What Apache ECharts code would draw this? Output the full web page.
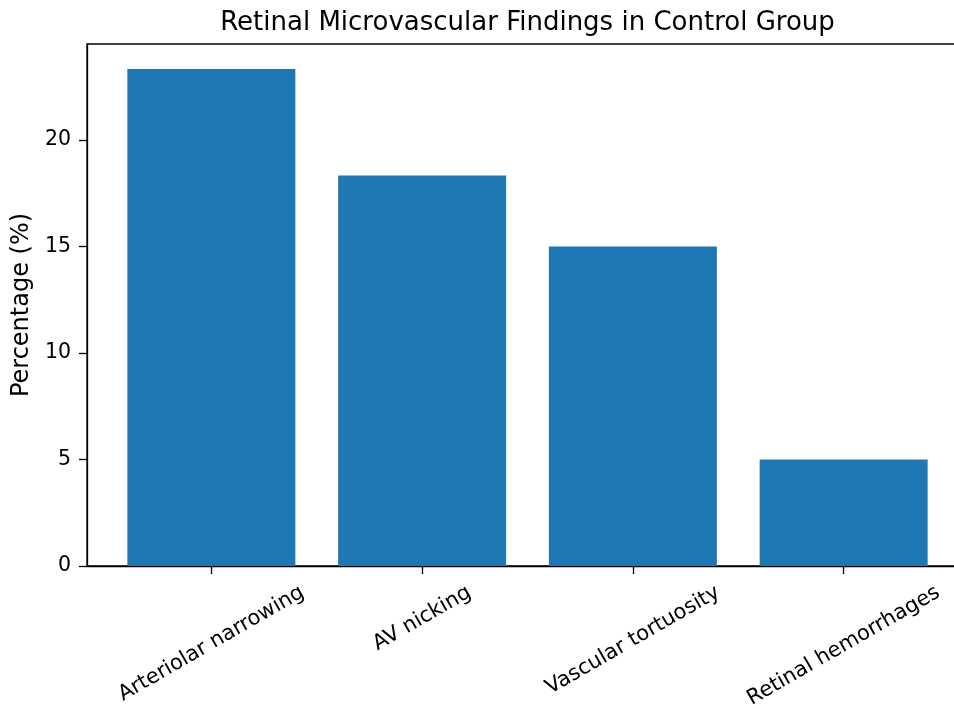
<!DOCTYPE html>
<html>
<head>
<meta charset="utf-8">
<script src="https://cdn.jsdelivr.net/npm/echarts@6/dist/echarts.min.js"></script>
<style>
  html, body { margin: 0; padding: 0; background: #fff; }
  #chart { width: 954px; height: 709px; }
</style>
</head>
<body>
<div id="chart"></div>
<script>
  // data (n = 60 controls)
  const categories = ['Arteriolar narrowing', 'AV nicking', 'Vascular tortuosity', 'Retinal hemorrhages']
  const percentages = [23.33, 18.33, 15.0, 5.0]
  const yTicks = [0, 5, 10, 15, 20]

  const FONT = 'DejaVu Sans'
  const tickSize = 21
  const positions = categories.map((c, i) => i)

  // used to size the rotated x labels like matplotlib does (centered under the tick)
  const ctx = document.createElement('canvas').getContext('2d')
  ctx.font = tickSize + 'px "' + FONT + '"'

  const black = '#000'
  const line = { color: black, width: 1.3 }

  const chart = echarts.init(document.getElementById('chart'))
  chart.setOption({
    animation: false,
    backgroundColor: '#fff',
    title: {
      text: 'Retinal Microvascular Findings in Control Group',
      left: 527.5,
      top: 10,
      padding: 0,
      textAlign: 'center',
      textStyle: { fontFamily: FONT, fontSize: 26, fontWeight: 'normal', color: black }
    },
    grid: {
      left: 87,
      top: 44,
      right: -14,
      bottom: 143,
      show: true,
      borderColor: black,
      borderWidth: 1.3,
      outerBoundsMode: 'none',
      containLabel: false
    },
    xAxis: {
      type: 'value',
      min: -0.59,
      max: 3.59,
      axisLine: { show: true, onZero: false, lineStyle: line },
      axisTick: { show: true, customValues: positions, length: 8, lineStyle: line },
      axisLabel: { show: false },
      splitLine: { show: false }
    },
    yAxis: {
      type: 'value',
      min: 0,
      max: 24.5,
      name: 'Percentage (%)',
      nameLocation: 'middle',
      nameRotate: 90,
      nameGap: 52,
      nameTextStyle: { fontFamily: FONT, fontSize: 24, color: black },
      axisLine: { show: true, onZero: false, lineStyle: line },
      axisTick: { show: true, customValues: yTicks, length: 8, lineStyle: line },
      axisLabel: { customValues: yTicks, margin: 16, fontFamily: FONT, fontSize: 20.5, color: black },
      splitLine: { show: false }
    },
    series: [
      {
        type: 'bar',
        data: percentages.map((v, i) => [i, v]),
        barWidth: 168,
        itemStyle: { color: '#1f77b4' }
      },
      {
        type: 'custom',
        silent: true,
        z: 10,
        data: positions.map(i => [i, 0]),
        encode: { x: 0, y: 1 },
        renderItem: function (params, api) {
          const idx = api.value(0)
          const p = api.coord([idx, api.value(1)])
          const text = categories[idx]
          const w = ctx.measureText(text).width
          const half = (w * 0.5 + tickSize * 0.866) / 2
          return {
            type: 'text',
            x: p[0],
            y: p[1] + 16 + half,
            rotation: Math.PI / 6,
            style: {
              text: text,
              fontFamily: FONT,
              fontSize: tickSize,
              fill: black,
              align: 'center',
              verticalAlign: 'middle'
            }
          }
        }
      }
    ]
  })
</script>
</body>
</html>
